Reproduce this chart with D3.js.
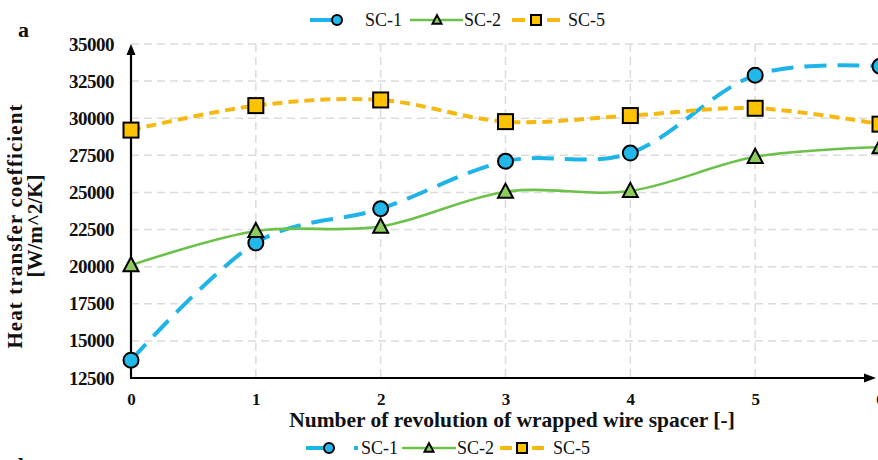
<!DOCTYPE html>
<html>
<head>
<meta charset="utf-8">
<script src="https://cdn.jsdelivr.net/npm/d3@7"></script>
<style>
  html, body { margin: 0; padding: 0; background: #fff; overflow: hidden; }
  svg { display: block; }
</style>
</head>
<body>
<svg id="chart" width="878" height="460"></svg>
<script>
// Heat transfer coefficient vs. number of wire-spacer revolutions
const revolutions = [0, 1, 2, 3, 4, 5, 6];
const sc1 = [13700, 21600, 23900, 27100, 27650, 32900, 33500];
const sc2 = [20100, 22400, 22700, 25050, 25100, 27400, 28050];
const sc5 = [29200, 30850, 31230, 29770, 30180, 30670, 29600];
const yTickValues = [12500, 15000, 17500, 20000, 22500, 25000, 27500, 30000, 32500, 35000];
const seriesNames = ["SC-1", "SC-2", "SC-5"];

const svg = d3.select("#chart");
const serif = "'Liberation Serif', 'Times New Roman', serif";

const x = d3.scaleLinear().domain([0, 6]).range([131, 880]);
const y = d3.scaleLinear().domain([12500, 35000]).range([378, 44]);

const styles = {
  "SC-1": { line: "#1eb4e8", fill: "#22b8ea", width: 4, dash: "22,11", marker: "circle" },
  "SC-2": { line: "#6cc14a", fill: "#8ccb5c", width: 2.6, dash: null, marker: "triangle" },
  "SC-5": { line: "#f5b914", fill: "#fdc300", width: 4, dash: "10,6", marker: "square" }
};
const values = { "SC-1": sc1, "SC-2": sc2, "SC-5": sc5 };

// grid
const grid = svg.append("g").attr("stroke", "#dcdcdc").attr("stroke-width", 1.5)
  .attr("stroke-dasharray", "8,5").attr("fill", "none");
grid.selectAll("line.h").data(yTickValues.slice(1)).join("line")
  .attr("x1", x(0)).attr("x2", 878).attr("y1", d => y(d)).attr("y2", d => y(d));
grid.selectAll("line.v").data(revolutions.slice(1)).join("line")
  .attr("x1", d => x(d)).attr("x2", d => x(d)).attr("y1", y(35000)).attr("y2", y(12500));

// axes with arrowheads
const axisG = svg.append("g");
axisG.append("line").attr("x1", x(0)).attr("x2", x(0)).attr("y1", y(12500) + 1).attr("y2", 52)
  .attr("stroke", "#000").attr("stroke-width", 2.2);
axisG.append("path").attr("d", `M${x(0)},44 L${x(0) - 4.5},55 L${x(0) + 4.5},55 Z`).attr("fill", "#000");
axisG.append("line").attr("x1", x(0) - 1).attr("x2", 866).attr("y1", y(12500)).attr("y2", y(12500))
  .attr("stroke", "#000").attr("stroke-width", 2.2);
axisG.append("path").attr("d", `M876,${y(12500)} L864,${y(12500) - 4.5} L864,${y(12500) + 4.5} Z`).attr("fill", "#000");

// y tick labels
const yAxis = d3.axisLeft(y).tickValues(yTickValues).tickSize(0).tickPadding(17).tickFormat(d3.format("d"));
const yg = svg.append("g").attr("transform", `translate(${x(0)},0)`).call(yAxis);
yg.select(".domain").remove();
yg.selectAll("text").attr("font-family", serif).attr("font-weight", "bold")
  .attr("font-size", 19).attr("letter-spacing", -0.5).attr("fill", "#111");

// x tick labels
const xAxis = d3.axisBottom(x).tickValues(revolutions).tickSize(0).tickPadding(15).tickFormat(d3.format("d"));
const xg = svg.append("g").attr("transform", `translate(0,${y(12500)})`).call(xAxis);
xg.select(".domain").remove();
xg.selectAll("text").attr("font-family", serif).attr("font-weight", "bold")
  .attr("font-size", 17).attr("fill", "#111");

// axis titles
svg.append("text").attr("x", 512).attr("y", 427).attr("text-anchor", "middle")
  .attr("font-family", serif).attr("font-weight", "bold").attr("font-size", 21.5).attr("fill", "#111")
  .text("Number of revolution of wrapped wire spacer [-]");
const yt = svg.append("text").attr("transform", "translate(0,226) rotate(-90)")
  .attr("text-anchor", "middle").attr("font-family", serif).attr("font-weight", "bold")
  .attr("font-size", 21).attr("fill", "#111");
yt.append("tspan").attr("x", 0).attr("y", 22).attr("letter-spacing", 1.1).text("Heat transfer coefficient");
yt.append("tspan").attr("x", 0).attr("y", 42).text("[W/m^2/K]");

// panel labels
svg.append("text").attr("x", 18).attr("y", 37).attr("font-family", serif).attr("font-weight", "bold")
  .attr("font-size", 22).attr("fill", "#111").text("a");
svg.append("text").attr("x", 18).attr("y", 473).attr("font-family", serif).attr("font-weight", "bold")
  .attr("font-size", 22).attr("fill", "#111").text("b");

// smoothed lines
const line = d3.line().x((d, i) => x(revolutions[i])).y(d => y(d)).curve(d3.curveCatmullRom.alpha(0));
seriesNames.forEach(name => {
  const s = styles[name];
  svg.append("path").datum(values[name]).attr("d", line).attr("fill", "none")
    .attr("stroke", s.line).attr("stroke-width", s.width).attr("stroke-dasharray", s.dash)
    .attr("stroke-linecap", "butt");
});

function drawMarker(g, type, cx, cy, size, fill) {
  if (type === "circle") {
    g.append("circle").attr("cx", cx).attr("cy", cy).attr("r", size / 2)
      .attr("fill", fill).attr("stroke", "#000").attr("stroke-width", 2);
  } else if (type === "square") {
    g.append("rect").attr("x", cx - size / 2).attr("y", cy - size / 2).attr("width", size).attr("height", size)
      .attr("fill", fill).attr("stroke", "#000").attr("stroke-width", 2);
  } else {
    const h = size * 0.9;
    g.append("path").attr("d", `M${cx},${cy - h * 0.6} L${cx + size / 2},${cy + h * 0.45} L${cx - size / 2},${cy + h * 0.45} Z`)
      .attr("fill", fill).attr("stroke", "#000").attr("stroke-width", 2).attr("stroke-linejoin", "miter");
  }
}

// markers
seriesNames.forEach(name => {
  const s = styles[name];
  const g = svg.append("g");
  values[name].forEach((v, i) => drawMarker(g, s.marker, x(revolutions[i]), y(v), 15, s.fill));
});

// top legend
const lg = svg.append("g");
lg.append("line").attr("x1", 310).attr("x2", 340).attr("y1", 20).attr("y2", 20)
  .attr("stroke", styles["SC-1"].line).attr("stroke-width", 4);
drawMarker(lg, "circle", 337, 20, 10, styles["SC-1"].fill);
lg.append("line").attr("x1", 410).attr("x2", 463).attr("y1", 20).attr("y2", 20)
  .attr("stroke", styles["SC-2"].line).attr("stroke-width", 2.6);
drawMarker(lg, "triangle", 437, 20, 9, styles["SC-2"].fill);
lg.append("line").attr("x1", 512).attr("x2", 525).attr("y1", 20).attr("y2", 20)
  .attr("stroke", styles["SC-5"].line).attr("stroke-width", 4);
lg.append("line").attr("x1", 547).attr("x2", 560).attr("y1", 20).attr("y2", 20)
  .attr("stroke", styles["SC-5"].line).attr("stroke-width", 4);
drawMarker(lg, "square", 536, 20, 10, styles["SC-5"].fill);
[[365, "SC-1"], [464, "SC-2"], [568, "SC-5"]].forEach(([lx, t]) =>
  lg.append("text").attr("x", lx).attr("y", 26).attr("font-family", serif).attr("font-size", 18)
    .attr("fill", "#111").text(t));

// bottom legend (next panel)
const lb = svg.append("g");
lb.append("line").attr("x1", 306).attr("x2", 326).attr("y1", 448).attr("y2", 448)
  .attr("stroke", styles["SC-1"].line).attr("stroke-width", 4);
drawMarker(lb, "circle", 329, 448, 10, styles["SC-1"].fill);
lb.append("line").attr("x1", 354).attr("x2", 358).attr("y1", 448).attr("y2", 448)
  .attr("stroke", styles["SC-1"].line).attr("stroke-width", 4);
lb.append("line").attr("x1", 402).attr("x2", 456).attr("y1", 448).attr("y2", 448)
  .attr("stroke", styles["SC-2"].line).attr("stroke-width", 2.6);
drawMarker(lb, "triangle", 429, 448, 9, styles["SC-2"].fill);
lb.append("line").attr("x1", 500).attr("x2", 512).attr("y1", 448).attr("y2", 448)
  .attr("stroke", styles["SC-5"].line).attr("stroke-width", 4);
lb.append("line").attr("x1", 532).attr("x2", 544).attr("y1", 448).attr("y2", 448)
  .attr("stroke", styles["SC-5"].line).attr("stroke-width", 4);
drawMarker(lb, "square", 522, 448, 10, styles["SC-5"].fill);
[[361, "SC-1"], [457, "SC-2"], [553, "SC-5"]].forEach(([lx, t]) =>
  lb.append("text").attr("x", lx).attr("y", 454).attr("font-family", serif).attr("font-size", 18)
    .attr("fill", "#111").text(t));
</script>
</body>
</html>
